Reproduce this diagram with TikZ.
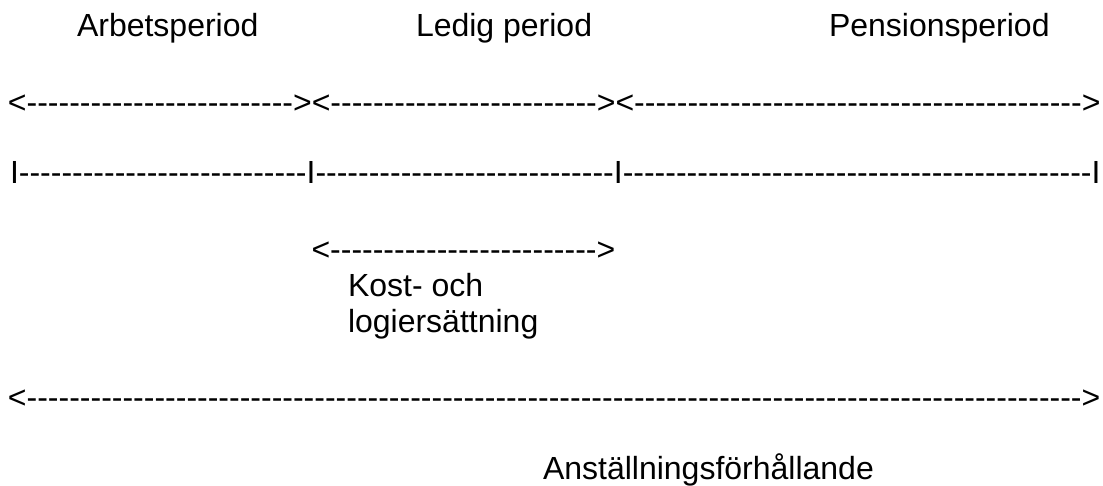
\documentclass[tikz,border=0pt]{standalone}
\usepackage{fontspec}
\setmainfont{Liberation Sans}[Ligatures=ResetAll, Kerning=Off]
\newcommand\streck[1]{\foreach \k in {1,...,#1}{-\kern0pt}}
\begin{document}
\begin{tikzpicture}[x=1pt, y=-1pt, every node/.style={font=\fontsize{32}{36}\selectfont},
		txt/.style={anchor=base west, inner sep=0pt, outer sep=0pt}]
	\useasboundingbox (0,0) rectangle (1103,486);
	% rubriker
	\node[txt] (arbete) at (77,37) {Arbetsperiod};
	\node[txt] (ledig) at (416,37) {Ledig period};
	\node[txt] (pension) at (829,37) {Pensionsperiod};
	% perioder
	\node[txt] (pil) at (8,114) {<\streck{25}><\streck{25}><\streck{42}>};
	\node[txt] (linje) at (10,184) {I\streck{27}I\streck{28}I\streck{44}I};
	% kost och logi
	\node[txt] (kostpil) at (311.5,261) {<\streck{25}>};
	\node[txt] (kost) at (348,297) {Kost- och};
	\node[txt] (logi) at ([yshift=-35pt]kost.base west) {logiersättning};
	% anställning
	\node[txt] (anstpil) at (8,408) {<\streck{99}>};
	\node[txt] (anst) at (543,479) {Anställningsförhållande};
\end{tikzpicture}
\end{document}
